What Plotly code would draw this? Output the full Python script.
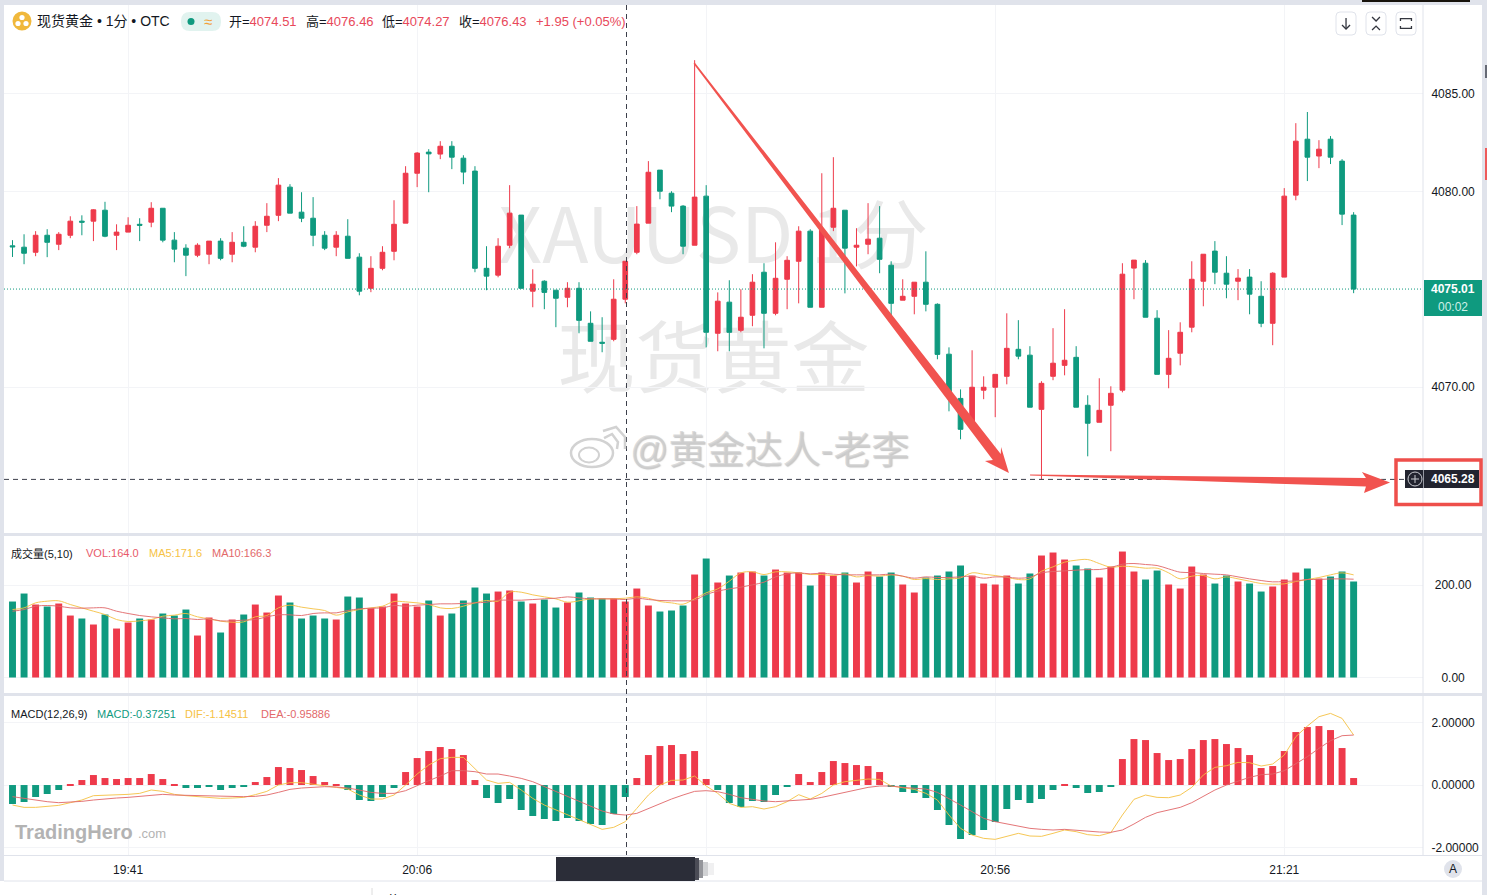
import plotly.graph_objects as go
from plotly.subplots import make_subplots

W = 1487
H = 895
RED = '#ee3a4b'
GREEN = '#0f9a7f'
GRID = '#f3f4f7'
BORDER = '#e0e3eb'
FONT = 'Liberation Sans, Noto Sans CJK SC'

# one candle per minute, 19:31 to 21:27
times = ['%02d:%02d' % ((19 * 60 + 31 + i) // 60, (19 * 60 + 31 + i) % 60) for i in range(117)]
tick_times = ['19:41', '20:06', '20:31', '20:56', '21:21']
tick_labels = ['19:41', '20:06', '', '20:56', '21:21']

opens = [4077.22, 4077.15, 4076.89, 4077.76, 4077.30, 4077.76, 4078.48, 4078.48, 4079.04, 4077.76,
         4077.92, 4078.32, 4078.43, 4079.14, 4077.51, 4077.10, 4076.74, 4076.79, 4077.46, 4076.79,
         4077.40, 4077.15, 4078.27, 4078.78, 4080.22, 4078.94, 4078.63, 4077.76, 4077.15, 4077.71,
         4076.64, 4075.05, 4076.07, 4076.94, 4078.38, 4080.93, 4082.01, 4081.91, 4082.31, 4081.70,
         4081.04, 4076.07, 4075.72, 4077.25, 4078.79, 4074.90, 4075.41, 4074.95, 4074.59, 4075.05,
         4073.26, 4072.29, 4072.44, 4074.49, 4076.89, 4078.38, 4081.09, 4079.91, 4079.25, 4077.25,
         4079.76, 4072.75, 4074.34, 4072.90, 4073.67, 4075.87, 4073.77, 4075.51, 4076.43, 4077.97,
         4074.08, 4078.17, 4079.04, 4077.15, 4077.30, 4077.61, 4076.23, 4074.44, 4074.64, 4075.36,
         4074.23, 4071.68, 4069.42, 4068.05, 4069.84, 4069.99, 4070.55, 4071.93, 4071.63, 4068.86,
         4070.55, 4071.11, 4071.52, 4069.07, 4068.20, 4069.07, 4069.84, 4076.08, 4076.33, 4073.52,
         4070.65, 4071.73, 4073.06, 4075.41, 4076.95, 4075.82, 4075.41, 4075.62, 4074.64, 4073.26,
         4075.62, 4079.81, 4082.67, 4081.81, 4082.67, 4081.55, 4078.79]
highs = [4077.51, 4077.81, 4077.97, 4078.07, 4077.92, 4078.73, 4078.78, 4079.09, 4079.47, 4078.32,
         4078.68, 4078.63, 4079.45, 4079.14, 4077.92, 4077.30, 4077.35, 4077.46, 4077.61, 4077.92,
         4078.22, 4078.48, 4079.40, 4080.68, 4080.37, 4079.96, 4079.71, 4077.97, 4077.97, 4078.58,
         4076.84, 4076.69, 4077.20, 4079.55, 4081.29, 4082.01, 4082.16, 4082.57, 4082.57, 4081.85,
         4081.29, 4077.20, 4077.61, 4080.32, 4078.79, 4076.02, 4075.46, 4074.95, 4075.36, 4075.36,
         4073.87, 4073.57, 4075.51, 4076.43, 4079.25, 4081.55, 4081.09, 4080.01, 4079.30, 4086.71,
         4080.32, 4074.84, 4075.46, 4075.00, 4075.77, 4076.33, 4077.40, 4076.69, 4078.22, 4078.07,
         4080.93, 4081.75, 4079.04, 4078.12, 4079.40, 4079.25, 4076.43, 4075.51, 4075.36, 4076.94,
         4074.28, 4072.03, 4069.88, 4071.88, 4070.55, 4070.65, 4073.77, 4073.42, 4072.09, 4070.30,
         4073.01, 4073.98, 4072.09, 4069.58, 4070.45, 4070.04, 4076.33, 4076.49, 4076.49, 4073.93,
         4072.91, 4073.31, 4076.43, 4076.79, 4077.46, 4076.69, 4076.03, 4076.03, 4075.41, 4075.87,
         4080.17, 4083.49, 4084.06, 4082.62, 4082.83, 4081.65, 4078.94]
lows = [4076.65, 4076.28, 4076.69, 4076.64, 4077.00, 4077.61, 4077.76, 4077.46, 4077.66, 4077.00,
        4077.92, 4077.46, 4078.17, 4077.40, 4076.38, 4075.67, 4076.64, 4076.28, 4076.48, 4076.38,
        4077.15, 4076.89, 4077.92, 4078.48, 4078.89, 4078.43, 4077.20, 4077.00, 4076.69, 4076.58,
        4074.69, 4074.85, 4075.97, 4076.48, 4078.38, 4080.22, 4079.96, 4081.65, 4081.14, 4080.37,
        4075.87, 4074.95, 4075.61, 4077.10, 4075.05, 4074.08, 4073.98, 4073.06, 4074.08, 4072.75,
        4072.34, 4071.78, 4072.34, 4074.28, 4076.79, 4078.38, 4079.60, 4078.94, 4076.79, 4077.25,
        4072.03, 4071.83, 4071.83, 4072.80, 4073.11, 4071.98, 4073.67, 4073.98, 4074.28, 4074.08,
        4074.08, 4077.97, 4074.79, 4076.17, 4076.79, 4075.82, 4073.46, 4074.44, 4073.72, 4073.87,
        4071.42, 4068.76, 4067.33, 4068.05, 4069.38, 4068.46, 4070.14, 4071.42, 4068.97, 4065.28,
        4070.35, 4070.60, 4068.97, 4066.46, 4068.20, 4066.72, 4069.73, 4074.49, 4073.57, 4070.65,
        4069.94, 4071.11, 4072.80, 4074.13, 4075.26, 4074.54, 4074.44, 4073.72, 4073.06, 4072.14,
        4075.62, 4079.55, 4080.53, 4081.19, 4081.40, 4078.28, 4074.80]
closes = [4077.17, 4076.84, 4077.76, 4077.40, 4077.81, 4078.48, 4078.43, 4079.06, 4077.71, 4077.92,
          4078.27, 4078.27, 4079.14, 4077.51, 4077.05, 4076.74, 4077.25, 4077.46, 4076.58, 4077.40,
          4077.20, 4078.22, 4078.73, 4080.32, 4078.89, 4078.63, 4077.76, 4077.10, 4077.76, 4076.58,
          4074.90, 4076.07, 4076.89, 4078.32, 4080.93, 4081.96, 4081.92, 4082.31, 4081.75, 4080.99,
          4076.07, 4075.67, 4077.20, 4078.89, 4075.05, 4075.26, 4074.84, 4074.54, 4075.05, 4073.41,
          4072.34, 4072.24, 4074.49, 4076.43, 4078.33, 4080.98, 4080.01, 4079.25, 4077.20, 4079.71,
          4072.80, 4074.39, 4072.80, 4073.57, 4075.36, 4073.77, 4075.56, 4076.48, 4077.97, 4074.08,
          4078.02, 4079.14, 4077.10, 4077.25, 4077.56, 4076.53, 4074.28, 4074.64, 4075.36, 4074.23,
          4071.67, 4069.58, 4067.84, 4069.99, 4069.99, 4070.65, 4071.98, 4071.58, 4068.97, 4070.19,
          4071.22, 4071.37, 4068.97, 4068.15, 4068.81, 4069.68, 4075.77, 4076.49, 4073.57, 4070.65,
          4071.47, 4072.80, 4075.51, 4076.79, 4075.87, 4075.26, 4075.57, 4074.75, 4073.26, 4075.82,
          4079.76, 4082.57, 4081.75, 4082.16, 4081.75, 4078.84, 4075.01]

volume = [164.3, 181.6, 157.8, 153.5, 160.0, 134.0, 127.6, 114.6, 136.2, 105.9,
          118.9, 127.6, 125.4, 138.4, 134.0, 147.0, 90.8, 129.7, 97.3, 125.4,
          136.2, 157.8, 140.5, 177.3, 162.2, 127.6, 134.0, 127.6, 125.4, 175.1,
          173.0, 149.9, 153.5, 181.6, 160.0, 153.5, 166.5, 134.0, 138.4, 166.5,
          194.6, 181.6, 185.9, 188.1, 164.3, 160.0, 168.6, 151.3, 162.2, 183.8,
          173.0, 170.8, 170.8, 164.3, 192.4, 155.7, 142.7, 144.9, 155.7, 222.7,
          257.3, 205.4, 220.5, 227.0, 229.2, 220.5, 233.5, 227.0, 227.0, 198.9,
          227.0, 220.5, 227.0, 205.4, 229.2, 218.4, 227.0, 201.1, 183.8, 216.2,
          220.5, 229.2, 242.2, 220.5, 203.2, 201.1, 220.5, 203.2, 224.9, 263.8,
          270.3, 255.1, 242.2, 235.7, 216.2, 240.0, 272.4, 229.2, 211.9, 231.3,
          201.1, 192.4, 240.0, 222.7, 203.2, 220.5, 207.6, 203.2, 185.9, 196.8,
          211.9, 227.0, 235.7, 214.0, 218.4, 229.2, 207.6]
ma5 = [147.0, 150.6, 161.4, 165.0, 165.8, 157.8, 150.6, 143.4, 136.2, 125.4,
       121.1, 122.5, 125.4, 132.6, 134.8, 138.4, 131.2, 126.8, 121.8, 119.6,
       120.4, 131.2, 134.0, 150.6, 156.4, 152.1, 148.5, 144.9, 134.8, 142.0,
       147.0, 150.6, 154.2, 164.3, 163.6, 161.4, 157.8, 150.6, 149.2, 154.2,
       161.4, 166.5, 165.0, 184.5, 184.5, 178.7, 174.4, 170.1, 162.9, 165.8,
       170.1, 170.1, 170.1, 171.5, 174.4, 171.5, 164.3, 161.4, 158.6, 170.1,
       183.1, 191.7, 208.3, 226.3, 228.5, 222.7, 228.5, 228.5, 226.3, 222.7,
       222.7, 220.5, 224.1, 217.6, 220.5, 219.1, 222.0, 219.1, 211.9, 214.0,
       211.9, 213.3, 215.5, 226.3, 223.4, 220.5, 216.9, 211.9, 213.3, 229.9,
       239.3, 249.4, 253.7, 255.1, 246.5, 238.6, 240.7, 239.3, 236.4, 236.4,
       226.3, 213.3, 219.1, 220.5, 213.3, 217.6, 213.3, 208.3, 203.2, 201.8,
       202.5, 207.6, 211.9, 216.2, 222.0, 226.3, 222.0]
ma10 = [143.4, 147.0, 154.2, 155.7, 154.2, 150.6, 149.9, 150.6, 150.6, 143.4,
        138.4, 134.0, 131.2, 129.0, 126.8, 127.6, 125.4, 126.8, 122.5, 122.5,
        124.0, 125.4, 131.2, 135.5, 135.5, 134.0, 138.4, 139.8, 139.8, 144.9,
        148.5, 149.9, 150.6, 155.7, 154.2, 156.4, 157.8, 159.3, 159.3, 160.0,
        161.4, 162.9, 167.2, 167.2, 167.2, 168.6, 170.1, 171.5, 174.4, 172.2,
        170.1, 170.1, 170.1, 168.6, 171.5, 168.6, 166.5, 165.8, 165.8, 167.2,
        179.5, 186.7, 191.7, 195.3, 200.4, 206.1, 217.6, 224.1, 226.3, 224.1,
        225.6, 223.4, 222.0, 222.0, 222.0, 222.0, 223.4, 219.1, 214.8, 217.6,
        216.2, 216.2, 217.6, 219.1, 214.8, 217.6, 216.9, 214.8, 216.9, 226.3,
        229.2, 230.6, 232.1, 233.5, 233.5, 237.8, 245.0, 246.5, 244.3, 242.2,
        234.9, 227.7, 227.0, 224.9, 223.4, 222.0, 217.6, 213.3, 209.7, 206.8,
        207.6, 209.0, 211.9, 211.9, 213.3, 213.3, 212.6]

macd_hist = [-0.608, -0.544, -0.384, -0.288, -0.16, 0.02, 0.16, 0.32, 0.224, 0.192,
             0.224, 0.224, 0.352, 0.192, 0.02, -0.096, -0.096, -0.032, -0.16, -0.096,
             -0.064, 0.096, 0.256, 0.576, 0.544, 0.48, 0.288, 0.096, 0.02, -0.16,
             -0.48, -0.512, -0.384, -0.096, 0.416, 0.864, 1.088, 1.216, 1.152, 0.96,
             0.16, -0.416, -0.576, -0.448, -0.8, -0.992, -1.088, -1.152, -1.056, -1.152,
             -1.248, -1.28, -0.928, -0.384, 0.224, 0.96, 1.248, 1.28, 0.992, 1.088,
             0.192, -0.16, -0.576, -0.704, -0.512, -0.544, -0.32, -0.043, 0.352, 0.096,
             0.416, 0.768, 0.704, 0.64, 0.608, 0.416, -0.032, -0.224, -0.256, -0.416,
             -0.8, -1.28, -1.728, -1.6, -1.44, -1.184, -0.768, -0.48, -0.576, -0.448,
             -0.16, 0.02, -0.096, -0.256, -0.224, -0.064, 0.832, 1.472, 1.44, 1.024,
             0.8, 0.832, 1.152, 1.44, 1.472, 1.312, 1.184, 0.96, 0.544, 0.608,
             1.088, 1.696, 1.856, 1.888, 1.76, 1.184, 0.224]
dif = [-0.64, -0.715, -0.715, -0.693, -0.651, -0.565, -0.48, -0.341, -0.331, -0.32,
       -0.299, -0.267, -0.16, -0.203, -0.299, -0.341, -0.363, -0.384, -0.427, -0.416,
       -0.395, -0.309, -0.203, 0.0, 0.075, 0.075, 0.032, -0.032, -0.075, -0.128,
       -0.32, -0.448, -0.448, -0.32, 0.0, 0.352, 0.64, 0.843, 0.885, 0.885,
       0.533, 0.16, 0.053, 0.085, -0.16, -0.427, -0.64, -0.8, -0.96, -1.099,
       -1.28, -1.419, -1.355, -1.173, -0.747, -0.32, 0.0, 0.149, 0.16, 0.288,
       -0.032, -0.267, -0.587, -0.715, -0.693, -0.768, -0.693, -0.533, -0.309, -0.448,
       -0.267, 0.0, 0.107, 0.16, 0.192, 0.181, -0.032, -0.085, -0.139, -0.267,
       -0.48, -0.96, -1.387, -1.6, -1.707, -1.739, -1.632, -1.547, -1.632, -1.643,
       -1.547, -1.44, -1.493, -1.589, -1.621, -1.525, -0.96, -0.459, -0.32, -0.395,
       -0.405, -0.32, -0.075, 0.32, 0.565, 0.619, 0.725, 0.715, 0.608, 0.672,
       0.96, 1.547, 1.888, 2.187, 2.293, 2.133, 1.6]
dea = [-0.373, -0.427, -0.48, -0.533, -0.565, -0.555, -0.523, -0.48, -0.437, -0.416,
       -0.395, -0.363, -0.309, -0.299, -0.32, -0.331, -0.341, -0.352, -0.373, -0.373,
       -0.373, -0.363, -0.32, -0.235, -0.139, -0.096, -0.064, -0.053, -0.064, -0.096,
       -0.16, -0.235, -0.267, -0.267, -0.181, -0.011, 0.139, 0.288, 0.459, 0.459,
       0.427, 0.352, 0.352, 0.288, 0.213, 0.107, -0.053, -0.213, -0.373, -0.533,
       -0.693, -0.832, -0.928, -0.96, -0.907, -0.747, -0.587, -0.448, -0.32, -0.203,
       -0.181, -0.213, -0.299, -0.405, -0.459, -0.512, -0.533, -0.512, -0.491, -0.459,
       -0.395, -0.309, -0.235, -0.16, -0.075, -0.032, -0.032, -0.075, -0.096, -0.128,
       -0.235, -0.427, -0.64, -0.853, -1.067, -1.173, -1.248, -1.312, -1.387, -1.419,
       -1.44, -1.419, -1.451, -1.483, -1.504, -1.515, -1.44, -1.248, -1.035, -0.885,
       -0.8, -0.715, -0.565, -0.352, -0.16, 0.0, 0.128, 0.245, 0.331, 0.352,
       0.459, 0.672, 0.907, 1.173, 1.419, 1.579, 1.6]

last_price = 4075.01
cross_price = 4065.28

vol_colors = [RED if c >= o else GREEN for o, c in zip(opens, closes)]
hist_colors = [RED if v >= 0 else GREEN for v in macd_hist]

fig = make_subplots(rows=3, cols=1, shared_xaxes=True)
candle = go.Candlestick(x=times, open=opens, high=highs, low=lows, close=closes, showlegend=False,
                        increasing=dict(line=dict(color=RED, width=1), fillcolor=RED),
                        decreasing=dict(line=dict(color=GREEN, width=1), fillcolor=GREEN))
fig.add_trace(candle, row=1, col=1)

fig.add_trace(go.Bar(x=times, y=volume, marker=dict(color=vol_colors, line=dict(width=0)), showlegend=False), row=2, col=1)
fig.add_trace(go.Scatter(x=times, y=ma5, mode='lines', opacity=0.9, line=dict(color='#f6c244', width=1, shape='spline'), showlegend=False), row=2, col=1)
fig.add_trace(go.Scatter(x=times, y=ma10, mode='lines', opacity=0.9, line=dict(color='#e2686a', width=1, shape='spline'), showlegend=False), row=2, col=1)

fig.add_trace(go.Bar(x=times, y=macd_hist, marker=dict(color=hist_colors, line=dict(width=0)), showlegend=False), row=3, col=1)
fig.add_trace(go.Scatter(x=times, y=dif, mode='lines', opacity=0.9, line=dict(color='#f6c244', width=1), showlegend=False), row=3, col=1)
fig.add_trace(go.Scatter(x=times, y=dea, mode='lines', opacity=0.9, line=dict(color='#e2686a', width=1), showlegend=False), row=3, col=1)


def px(x):
    return x / W


def py(y):
    return 1 - y / H


def rect(x0, y0, x1, y1, fill=None, line=None, lw=1, **kw):
    return dict(type='rect', xref='paper', yref='paper', x0=px(x0), x1=px(x1), y0=py(y0), y1=py(y1),
                fillcolor=fill or 'rgba(0,0,0,0)', line=dict(color=line or 'rgba(0,0,0,0)', width=lw if line else 0), **kw)


def seg(x0, y0, x1, y1, color, lw=1, dash='solid'):
    return dict(type='line', xref='paper', yref='paper', x0=px(x0), x1=px(x1), y0=py(y0), y1=py(y1),
                line=dict(color=color, width=lw, dash=dash))


def circle(cx, cy, rx, ry=None, fill=None, line=None, lw=1):
    ry = rx if ry is None else ry
    return dict(type='circle', xref='paper', yref='paper', x0=px(cx - rx), x1=px(cx + rx), y0=py(cy - ry), y1=py(cy + ry),
                fillcolor=fill or 'rgba(0,0,0,0)', line=dict(color=line or 'rgba(0,0,0,0)', width=lw if line else 0))


def poly(points, fill=None, line=None, lw=1, closed=True):
    d = 'M ' + ' L '.join('%.4f,%.4f' % (px(a), py(b)) for a, b in points)
    if closed:
        d += ' Z'
    return dict(type='path', xref='paper', yref='paper', path=d,
                fillcolor=fill or 'rgba(0,0,0,0)', line=dict(color=line or 'rgba(0,0,0,0)', width=lw if line else 0))


def rounded(x0, y0, x1, y1, r, fill=None, line=None, lw=1):
    X0, X1, Y0, Y1, = px(x0), px(x1), py(y0), py(y1)
    rx, ry = r / W, r / H
    d = (f'M {X0 + rx},{Y0} L {X1 - rx},{Y0} Q {X1},{Y0} {X1},{Y0 - ry} L {X1},{Y1 + ry} Q {X1},{Y1} {X1 - rx},{Y1} '
         f'L {X0 + rx},{Y1} Q {X0},{Y1} {X0},{Y1 + ry} L {X0},{Y0 - ry} Q {X0},{Y0} {X0 + rx},{Y0} Z')
    return dict(type='path', xref='paper', yref='paper', path=d,
                fillcolor=fill or 'rgba(0,0,0,0)', line=dict(color=line or 'rgba(0,0,0,0)', width=lw if line else 0))


def watermark(text, y0, y1, size):
    return dict(type='rect', xref='x domain', yref='y domain', x0=0.2, x1=0.8, y0=y0, y1=y1, layer='below',
                fillcolor='rgba(0,0,0,0)', line=dict(width=0),
                label=dict(text=text, textposition='middle center',
                           font=dict(family='Noto Sans CJK SC', size=size, color='#e9e9e9')))


ICON = '#33363f'
shapes = [
    # big text behind the candles
    watermark('XAUUSD 1分', 1 - (282 - 5) / 528, 1 - (202 - 5) / 528, 76),
    watermark('现货黄金', 1 - (405 - 5) / 528, 1 - (325 - 5) / 528, 78),
    # frame
    rect(0, 0, W, 5, fill=BORDER),
    rect(0, 0, 4, 881, fill=BORDER),
    rect(1482, 0, W, H, fill=BORDER),
    rect(4, 533, 1482, 536, fill=BORDER),
    rect(4, 693, 1482, 696, fill=BORDER),
    seg(1423, 5, 1423, 855, BORDER),
    seg(4, 855.5, 1482, 855.5, BORDER),
    seg(4, 881, 1482, 881, BORDER),
    rect(1362, 0, 1470, 2, fill='#17130c'),
    rect(1485, 65, W, 78, fill='#666a75'),
    rect(1485, 148, W, 180, fill='#ee5a5a'),
    seg(372, 888, 372, 895, '#dcdcdc'),
    # redacted time label
    rect(556, 857, 695, 881, fill='#2b2d38'),
    rect(695, 858, 699, 880, fill='rgba(43,45,56,0.85)'),
    rect(699, 860, 703, 878, fill='rgba(43,45,56,0.5)'),
    rect(703, 862, 708, 876, fill='rgba(43,45,56,0.22)'),
    rect(708, 863, 714, 875, fill='rgba(43,45,56,0.07)'),
    # crosshair
    dict(type='line', xref='x domain', yref='y', x0=0, x1=1, y0=last_price, y1=last_price,
         line=dict(color=GREEN, width=1, dash='1px,2px')),
    dict(type='line', xref='x domain', yref='y', x0=0, x1=1, y0=cross_price, y1=cross_price,
         line=dict(color='#3c3f4a', width=1, dash='5px,4px')),
    seg(626.5, 5, 626.5, 855, '#3c3f4a', dash='5px,4px'),
    # last price label
    rect(1424, 280, 1482, 316, fill=GREEN),
    # crosshair label
    rect(1405, 470, 1479, 488, fill='#22242f'),
    seg(1423.5, 470, 1423.5, 488, '#9598a1'),
    circle(1415, 479, 7, line='#c9cbd1'),
    seg(1411, 479, 1419, 479, '#c9cbd1'),
    seg(1415, 475, 1415, 483, '#c9cbd1'),
    # hand drawn arrows and box
    poly([(694.8, 62.6), (1000.8, 454), (1001, 447), (1009, 473), (985, 461), (992.8, 460), (693.6, 63.8)], fill='#f1534f'),
    poly([(1030, 474.6), (1366, 478), (1362, 472), (1390, 482.5), (1364, 493), (1366, 486.5), (1030, 475.6)], fill='#f1534f'),
    rect(1396, 460, 1481, 504.5, line='#ee4f4b', lw=3.5),
    # header icon and pill
    circle(22, 21, 9.5, fill='#f0b83c'),
    circle(22, 17.5, 2.6, fill='#ffffff'),
    circle(18, 23.5, 2.6, fill='#ffffff'),
    circle(26, 23.5, 2.6, fill='#ffffff'),
    rounded(181, 12, 221, 31, 9, fill='#e1f3ef'),
    circle(191, 21.5, 3.5, fill=GREEN),
    # top right buttons
    rounded(1336, 12, 1356, 35, 4, fill='#ffffff', line=BORDER),
    rounded(1366, 12, 1386, 35, 4, fill='#ffffff', line=BORDER),
    rounded(1396, 12, 1416, 35, 4, fill='#ffffff', line=BORDER),
    poly([(1346, 18), (1346, 29)], line=ICON, lw=1.3, closed=False),
    poly([(1342, 25), (1346, 29), (1350, 25)], line=ICON, lw=1.3, closed=False),
    poly([(1372, 17), (1376, 21), (1380, 17)], line=ICON, lw=1.3, closed=False),
    poly([(1372, 30), (1376, 26), (1380, 30)], line=ICON, lw=1.3, closed=False),
    poly([(1400.5, 21), (1400.5, 18.5), (1403, 18.5), (1409, 18.5), (1411.5, 18.5), (1411.5, 21)], line=ICON, lw=1.3, closed=False),
    poly([(1400.5, 26), (1400.5, 28.5), (1403, 28.5), (1409, 28.5), (1411.5, 28.5), (1411.5, 26)], line=ICON, lw=1.3, closed=False),
    # A button
    circle(1453, 869, 9, fill=BORDER),
    # weibo mark
    circle(592, 453, 21, 14, line='#d2d2d2', lw=2.5),
    circle(589, 455, 10, 7.5, line='#d2d2d2', lw=2),
    poly([(604, 438), (612, 434), (618, 442), (617, 449)], line='#d2d2d2', lw=2.5, closed=False),
    poly([(603, 431), (616, 427), (625, 437), (625, 449)], line='#d2d2d2', lw=2.5, closed=False),
]


def text(x, y, s, size=13, color='#131722', anchor='left', **font):
    if anchor == 'left':
        x -= 2
    return dict(xref='paper', yref='paper', x=px(x), y=py(y), text=s, showarrow=False, xanchor=anchor, yanchor='middle',
                font=dict(family=FONT, size=size, color=color, **font))


def red(s):
    return '<span style="color:%s">%s</span>' % ('#e8485a', s)


annotations = [
    text(37, 21, '现货黄金 • 1分 • OTC', size=14),
    text(204, 21, '≈', size=15, color='#f2a13a'),
    text(229, 22, '开=' + red('4074.51')),
    text(306, 22, '高=' + red('4076.46')),
    text(382, 22, '低=' + red('4074.27')),
    text(459, 22, '收=' + red('4076.43')),
    text(536, 22, red('+1.95 (+0.05%)')),
    text(11, 553, '成交量(5,10)', size=11),
    text(86, 553, 'VOL:164.0', size=11, color='#e8596a'),
    text(149, 553, 'MA5:171.6', size=11, color='#f6c244'),
    text(212, 553, 'MA10:166.3', size=11, color='#e2686a'),
    text(11, 714, 'MACD(12,26,9)', size=11),
    text(97, 714, 'MACD:-0.37251', size=11, color=GREEN),
    text(185, 714, 'DIF:-1.14511', size=11, color='#f6c244'),
    text(261, 714, 'DEA:-0.95886', size=11, color='#e2686a'),
    text(1453, 289, '4075.01', size=12, color='#ffffff', anchor='center', weight='bold'),
    text(1453, 307, '00:02', size=12, color='#cdf0e8', anchor='center'),
    text(1453, 479, '4065.28', size=12, color='#ffffff', anchor='center', weight='bold'),
    text(1453, 869, 'A', size=12, anchor='center'),
    text(15, 832, '<b>TradingHero</b>', size=20, color='#b3b3b3'),
    text(138, 833, '.com', size=13, color='#b3b3b3'),
    text(630, 450, '@黄金达人-老李', size=38, color='rgba(208,208,208,0.72)', shadow='1px 1px 1px #b0b0b0'),
    text(393, 901, '黄', size=14, anchor='center'),
]

fig.update_layout(
    width=W,
    height=H,
    margin=dict(l=0, r=0, t=0, b=0),
    paper_bgcolor='white',
    plot_bgcolor='white',
    showlegend=False,
    hovermode=False,
    boxgap=0.42,
    bargap=0.4,
    font=dict(family=FONT, size=12, color='#131722'),
    shapes=shapes,
    annotations=annotations,
)

x_common = dict(domain=[px(4), px(1423)], type='category', categoryorder='array', categoryarray=times,
                range=[-0.735, 122.0], tickmode='array', tickvals=tick_times, ticktext=tick_labels,
                showgrid=True, gridcolor=GRID, gridwidth=1, zeroline=False, showline=False,
                rangeslider=dict(visible=False), tickangle=0)
fig.update_xaxes(**x_common)
fig.update_xaxes(showticklabels=False, ticks='', row=1, col=1)
fig.update_xaxes(showticklabels=False, ticks='', row=2, col=1)
fig.update_xaxes(showticklabels=True, ticks='outside', ticklen=4, tickcolor='rgba(0,0,0,0)', tickfont=dict(size=12), row=3, col=1)

y_common = dict(side='right', showgrid=True, gridcolor=GRID, gridwidth=1, zeroline=False, showline=False,
                automargin=False, ticks='outside', ticklen=5, tickcolor='rgba(0,0,0,0)', tickfont=dict(size=12))
fig.update_yaxes(domain=[py(533), py(5)], range=[4062.54, 4089.53], tickmode='array',
                 tickvals=[4070, 4080, 4085], tickformat='.2f', **y_common, row=1, col=1)
fig.update_yaxes(domain=[py(693), py(536)], range=[-33.5, 306], tickmode='array',
                 tickvals=[0, 200], ticktext=['\u00a0\u00a0\u00a00.00', '\u00a0200.00'], **y_common, row=2, col=1)
fig.update_yaxes(domain=[py(855), py(696)], range=[-2.24, 2.85], tickmode='array',
                 tickvals=[-2, 0, 2], ticktext=['-2.00000', '0.00000', '2.00000'], **y_common, row=3, col=1)

fig.write_html('out.html', config=dict(displayModeBar=False),
               post_script="document.body.style.margin='0';document.body.style.overflow='hidden';")
